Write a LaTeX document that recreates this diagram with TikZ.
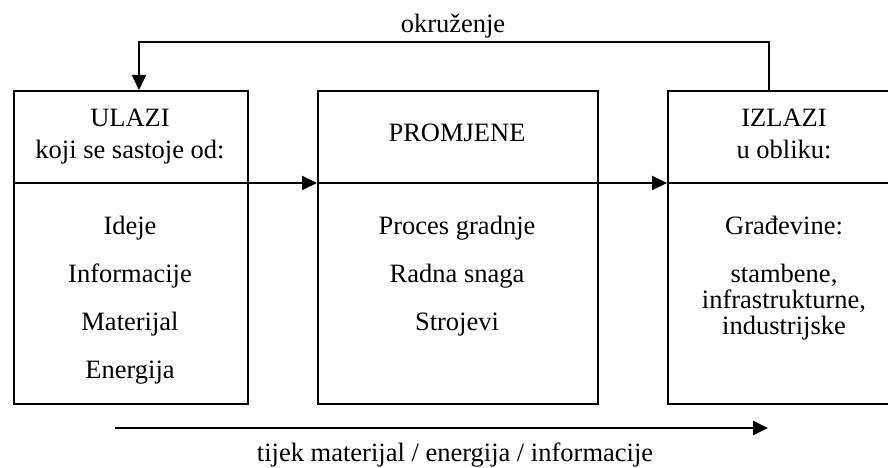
\documentclass[tikz,border=0pt]{standalone}
\usepackage{fontspec}
\setmainfont{Liberation Serif}
\usetikzlibrary{arrows.meta, positioning}

\begin{document}
\begin{tikzpicture}[
  x=1pt, y=-1pt,
  font=\fontsize{26.5}{32}\selectfont,
  box/.style={draw, line width=2pt, anchor=north west, minimum height=313pt, inner sep=0pt},
  txt/.style={anchor=base, inner sep=0pt},
  arr/.style={-{Triangle[length=15pt,width=14pt]}, line width=2pt},
  ln/.style={line width=2pt}
]
\useasboundingbox (0,0) rectangle (888,468);
\clip (0,0) rectangle (888,468);
% three blocks
\node[box, minimum width=234pt] (in) at (13,90) {};
\node[box, minimum width=280pt] (chg) at (317,90) {};
\node[box, minimum width=234pt] (out) at (667,90) {};
% headings
\node[txt] (inHead) at (130,126) {ULAZI};
\node[txt] (inSub) at (130,158) {koji se sastoje od:};
\node[txt] (chgHead) at (457,142) {PROMJENE};
\node[txt] (outHead) at (784,126) {IZLAZI};
\node[txt] (outSub) at (784,158) {u obliku:};
% inputs
\node[txt] (inA) at (130,234) {Ideje};
\node[txt] (inB) at (130,282) {Informacije};
\node[txt] (inC) at (130,330) {Materijal};
\node[txt] (inD) at (130,378) {Energija};
% changes
\node[txt] (chgA) at (457,234) {Proces gradnje};
\node[txt] (chgB) at (457,282) {Radna snaga};
\node[txt] (chgC) at (457,330) {Strojevi};
% outputs
\node[txt] (outA) at (784,234) {Građevine:};
\node[txt] (outB) at (784,282) {stambene,};
\node[txt] (outC) at (784,308) {infrastrukturne,};
\node[txt] (outD) at (784,334) {industrijske};
% feedback loop
\coordinate (fbL) at (139,42);
\coordinate (fbR) at (769,42);
\node[txt] (env) at (453,33) {okruženje};
\draw[arr] (out.north -| fbR) -- (fbR) -- (fbL) -- (in.north -| fbL);
% dividing line with arrows
\coordinate (div) at (0,183);
\draw[arr] (in.west |- div) -- (chg.west |- div);
\draw[arr] (chg.west |- div) -- (out.west |- div);
\draw[ln] (out.west |- div) -- (out.east |- div);
% flow arrow
\coordinate (flowA) at (115,428);
\coordinate (flowB) at (768,428);
\draw[arr] (flowA) -- (flowB);
\node[txt] (flow) at (455,461) {tijek materijal / energija / informacije};
\end{tikzpicture}
\end{document}
